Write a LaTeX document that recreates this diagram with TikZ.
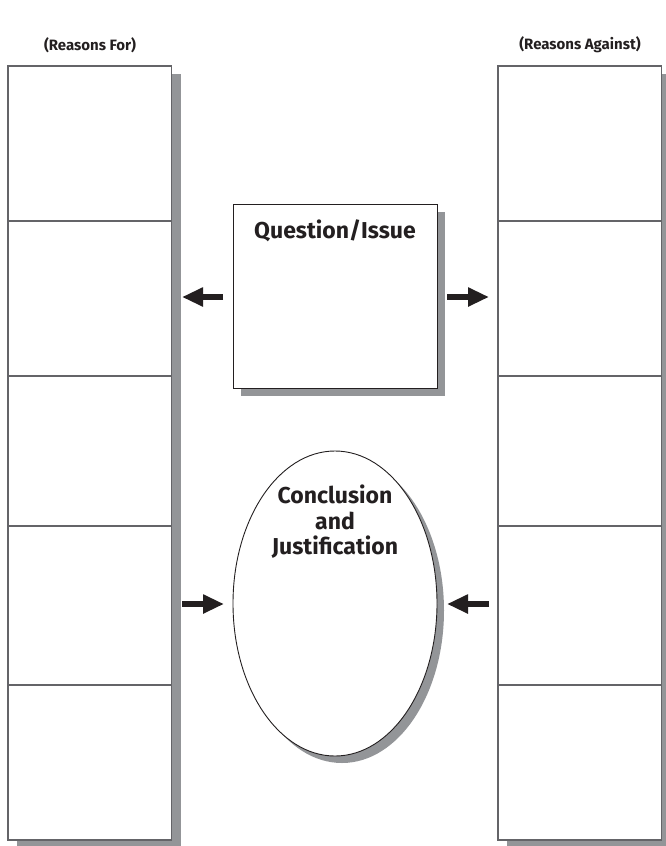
\documentclass[tikz,border=0pt]{standalone}
\usepackage{fontspec}
\setmainfont{Fira Sans}
\usetikzlibrary{arrows.meta,shapes.geometric,shadows}
\definecolor{shadowgray}{RGB}{147,149,152}
\definecolor{inkdark}{RGB}{35,31,32}
\definecolor{colline}{RGB}{100,100,104}
\begin{document}
\begin{tikzpicture}[x=1pt,y=-1pt,
  column/.style={draw=colline, line width=1.2pt, fill=white, rectangle, inner sep=0pt,
    minimum width=163.5pt, minimum height=774pt,
    drop shadow={shadow xshift=9pt, shadow yshift=-8pt, fill=shadowgray, opacity=1}},
  divider/.style={draw=colline, line width=1.2pt},
  qbox/.style={draw=inkdark, line width=0.9pt, fill=white, rectangle, inner sep=0pt,
    minimum width=204pt, minimum height=184pt,
    drop shadow={shadow xshift=8pt, shadow yshift=-8pt, fill=shadowgray, opacity=1}},
  cbox/.style={draw=inkdark, line width=0.9pt, fill=white, ellipse, inner sep=0pt,
    minimum width=204pt, minimum height=305pt,
    drop shadow={shadow xshift=7pt, shadow yshift=-7pt, fill=shadowgray, opacity=1}},
  heading/.style={font=\bfseries\fontsize{15}{17}\selectfont, text=inkdark},
  title/.style={font=\bfseries\fontsize{23}{25.5}\selectfont, text=inkdark, align=center},
  fatarrow/.style={draw=inkdark, line width=6.5pt, -{Triangle[length=21pt,width=18pt]}}
]
\useasboundingbox (0,0) rectangle (665,846);

% columns
\node[column] (L) at (89.75,453) {};
\node[column] (R) at (579.75,453) {};

% dividers
\foreach \yy/\n in {221/1,376/2,526/3,685/4}{
  \coordinate (la\n) at (L.west |- 0,\yy);
  \coordinate (lb\n) at (L.east |- 0,\yy);
  \coordinate (ra\n) at (R.west |- 0,\yy);
  \coordinate (rb\n) at (R.east |- 0,\yy);
  \draw[divider] (la\n) -- (lb\n);
  \draw[divider] (ra\n) -- (rb\n);
}

% headings
\node[heading] (hfor) at (90,45) {(Reasons For)};
\node[heading] (hagainst) at (580,45) {(Reasons Against)};

% question box
\node[qbox] (Q) at (335,296) {};
\node[title] (qt) at (335,231) {Question/Issue};

% conclusion ellipse
\node[cbox] (C) at (335,603.5) {};
\node[title] (ct) at (335,522) {Conclusion\\and\\Justification};

% arrows
\coordinate (qls) at (223,297);
\coordinate (qle) at (182,297);
\coordinate (qrs) at (447,297);
\coordinate (qre) at (489,297);
\coordinate (cls) at (182,604);
\coordinate (cle) at (224,604);
\coordinate (crs) at (489,604);
\coordinate (cre) at (447,604);
\draw[fatarrow] (qls) -- (qle);
\draw[fatarrow] (qrs) -- (qre);
\draw[fatarrow] (cls) -- (cle);
\draw[fatarrow] (crs) -- (cre);
\end{tikzpicture}
\end{document}
